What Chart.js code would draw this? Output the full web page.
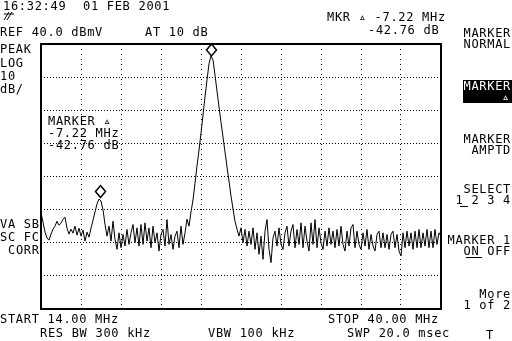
<!DOCTYPE html>
<html>
<head>
<meta charset="utf-8">
<script src="https://cdn.jsdelivr.net/npm/chart.js@4.4.1/dist/chart.umd.min.js"></script>
<style>
  html, body { margin:0; padding:0; background:#fff; }
  #wrap { width:512px; height:341px; }
</style>
</head>
<body>
<div id="wrap"><canvas id="sa" width="512" height="341"></canvas></div>
<script>
// sweep settings (MHz / dBmV)
var startMhz = 14.0;
var stopMhz = 40.0;
var freqTicks = [14, 16.6, 19.2, 21.8, 24.4, 27, 29.6, 32.2, 34.8, 37.4, 40];
var levelTicks = [-40, -30, -20, -10, 0, 10, 20, 30, 40];

// trace (dBmV), evenly spaced from START to STOP
var traceDbmv = [
  -11.0, -13.8, -16.8, -18.6, -19.2, -17.4, -15.9, -15.0, -13.5, -14.7,
  -14.1, -12.9, -12.3, -15.6, -17.4, -15.9, -17.1, -15.0, -17.7, -15.6,
  -18.0, -16.2, -19.5, -16.8, -18.3, -15.6, -13.2, -10.7, -8.3, -6.8,
  -7.4, -10.1, -14.4, -18.0, -15.0, -19.5, -13.5, -19.0, -22.0, -17.0,
  -21.5, -17.5, -21.0, -16.0, -20.5, -17.0, -14.5, -20.0, -15.5, -21.0,
  -14.5, -20.5, -14.0, -19.5, -15.5, -21.5, -15.0, -20.0, -17.0, -22.5,
  -17.5, -16.0, -21.0, -13.0, -20.5, -17.5, -22.0, -18.0, -16.5, -21.5,
  -15.0, -20.5, -17.0, -12.9, -15.0, -10.7, -7.1, -2.0, 3.2, 8.0,
  13.1, 18.6, 24.0, 29.1, 34.0, 36.4, 35.2, 30.6, 25.8, 21.0,
  16.4, 11.9, 7.4, 2.9, -1.4, -5.9, -9.8, -13.5, -15.9, -18.0,
  -15.5, -20.0, -16.0, -21.0, -16.5, -20.5, -15.5, -22.0, -17.0, -23.5,
  -18.0, -25.0, -16.5, -13.0, -22.0, -26.0, -18.5, -16.5, -21.0, -15.5,
  -20.5, -22.0, -17.0, -15.0, -21.0, -16.5, -14.5, -21.5, -16.0, -20.5,
  -14.0, -21.5, -15.0, -19.5, -22.5, -14.0, -20.5, -13.0, -21.5, -15.5,
  -20.0, -22.0, -16.5, -21.0, -15.5, -20.5, -16.5, -21.5, -16.0, -21.0,
  -15.0, -20.5, -22.5, -16.5, -21.0, -15.5, -14.5, -21.5, -16.5, -20.5,
  -22.0, -17.0, -21.0, -16.0, -22.0, -17.5, -21.0, -22.5, -17.5, -16.5,
  -21.5, -17.0, -21.5, -17.5, -22.0, -17.5, -16.5, -21.5, -17.5, -22.5,
  -24.0, -17.0, -21.5, -16.5, -21.0, -17.0, -22.0, -16.5, -21.5, -16.0,
  -21.5, -17.0, -21.0, -16.0, -21.5, -16.5, -21.5, -16.0, -20.5, -17.0,
  -18.0
];

// markers: main peak and delta marker
var markerMhz = [25.05, 17.83];
var markerDbmv = [36.4, -6.36];

var step = (stopMhz - startMhz) / (traceDbmv.length - 1);
var tracePts = traceDbmv.map(function (v, i) {
  return { x: startMhz + i * step, y: v };
});

var FONT = '12px "DejaVu Sans Mono", "Liberation Mono", monospace';

function txt(ctx, s, x, y, align, color) {
  ctx.fillStyle = color || '#000';
  ctx.textAlign = align || 'left';
  ctx.fillText(s, x, y);
}

var screenPlugin = {
  id: 'screen',
  afterDatasetsDraw: function (chart) {
    var ctx = chart.ctx;
    var xs = chart.scales.x, ys = chart.scales.y;
    ctx.save();
    // marker diamonds sitting on the trace
    ctx.lineWidth = 1.5;
    ctx.strokeStyle = '#000';
    ctx.fillStyle = '#fff';
    for (var i = 0; i < markerMhz.length; i++) {
      var px = Math.round(xs.getPixelForValue(markerMhz[i])) + 0.5;
      var py = ys.getPixelForValue(markerDbmv[i]);
      ctx.beginPath();
      ctx.moveTo(px, py - 12);
      ctx.lineTo(px + 5, py - 6);
      ctx.lineTo(px, py);
      ctx.lineTo(px - 5, py - 6);
      ctx.closePath();
      ctx.fill();
      ctx.stroke();
    }
    // graticule border
    var a = chart.chartArea;
    ctx.lineWidth = 2;
    ctx.strokeRect(a.left, a.top, a.right - a.left, a.bottom - a.top);
    ctx.restore();
  },
  afterDraw: function (chart) {
    var ctx = chart.ctx;
    ctx.save();
    ctx.font = FONT;
    ctx.letterSpacing = '0.7px';
    ctx.textBaseline = 'alphabetic';

    txt(ctx, '16:32:49', 3, 10);
    txt(ctx, '01 FEB 2001', 83, 10);
    txt(ctx, 'REF 40.0 dBmV', 0, 36);
    txt(ctx, 'AT 10 dB', 145, 36);
    txt(ctx, 'MKR \u25B5 -7.22 MHz', 327, 21);
    txt(ctx, '-42.76 dB', 368, 34);

    // hp logo
    ctx.lineWidth = 1;
    ctx.strokeStyle = '#000';
    ctx.beginPath();
    ctx.moveTo(4, 20); ctx.lineTo(9, 12);
    ctx.moveTo(7, 20); ctx.lineTo(12, 12);
    ctx.moveTo(4, 14); ctx.lineTo(14, 14);
    ctx.stroke();

    txt(ctx, 'PEAK', 0, 53);
    txt(ctx, 'LOG', 0, 67);
    txt(ctx, '10', 0, 80);
    txt(ctx, 'dB/', 0, 93);

    txt(ctx, 'MARKER \u25B5', 48, 125);
    txt(ctx, '-7.22 MHz', 48, 137);
    txt(ctx, '-42.76 dB', 48, 149);

    txt(ctx, 'VA SB', 0, 228);
    txt(ctx, 'SC FC', 0, 241);
    txt(ctx, 'CORR', 8, 254);

    txt(ctx, 'START 14.00 MHz', 0, 323);
    txt(ctx, 'STOP 40.00 MHz', 328, 323);
    txt(ctx, 'RES BW 300 kHz', 40, 337);
    txt(ctx, 'VBW 100 kHz', 208, 337);
    txt(ctx, 'SWP 20.0 msec', 347, 337);

    // softkey column
    var R = 511;
    txt(ctx, 'MARKER', R, 37, 'right');
    txt(ctx, 'NORMAL', R, 48, 'right');
    ctx.fillStyle = '#000';
    ctx.fillRect(463, 80, 49, 23);
    txt(ctx, 'MARKER', R, 90, 'right', '#fff');
    txt(ctx, '\u25B5', 510, 101, 'right', '#fff');
    txt(ctx, 'MARKER', R, 143, 'right');
    txt(ctx, 'AMPTD', R, 154, 'right');
    txt(ctx, 'SELECT', R, 193, 'right');
    txt(ctx, '1 2 3 4', R, 204, 'right');
    txt(ctx, 'MARKER 1', R, 244, 'right');
    txt(ctx, 'ON OFF', R, 255, 'right');
    txt(ctx, 'More', R, 298, 'right');
    txt(ctx, '1 of 2', R, 309, 'right');
    txt(ctx, 'T', 490, 339, 'center');

    ctx.fillStyle = '#000';
    ctx.fillRect(460, 206, 8, 1);
    ctx.fillRect(466, 257, 16, 1);
    ctx.restore();
  }
};

var ctx = document.getElementById('sa').getContext('2d');
var saChart = new Chart(ctx, {
  type: 'line',
  data: {
    datasets: [{
      data: tracePts,
      borderColor: '#000',
      borderWidth: 1,
      pointRadius: 0,
      tension: 0,
      fill: false
    }]
  },
  options: {
    responsive: false,
    animation: false,
    devicePixelRatio: 1,
    layout: { padding: { left: 41, right: 71, top: 44, bottom: 32 } },
    plugins: { legend: { display: false }, tooltip: { enabled: false } },
    scales: {
      x: {
        type: 'linear',
        min: startMhz,
        max: stopMhz,
        afterBuildTicks: function (ax) {
          ax.ticks = freqTicks.map(function (v) { return { value: v }; });
        },
        ticks: { display: false },
        grid: { color: '#000', lineWidth: 1, drawTicks: false },
        border: { display: false, dash: [1, 4] }
      },
      y: {
        type: 'linear',
        min: -40,
        max: 40,
        afterBuildTicks: function (ax) {
          ax.ticks = levelTicks.map(function (v) { return { value: v }; });
        },
        ticks: { display: false },
        grid: { color: '#000', lineWidth: 1, drawTicks: false },
        border: { display: false, dash: [1, 2] }
      }
    }
  },
  plugins: [screenPlugin]
});
</script>
</body>
</html>
